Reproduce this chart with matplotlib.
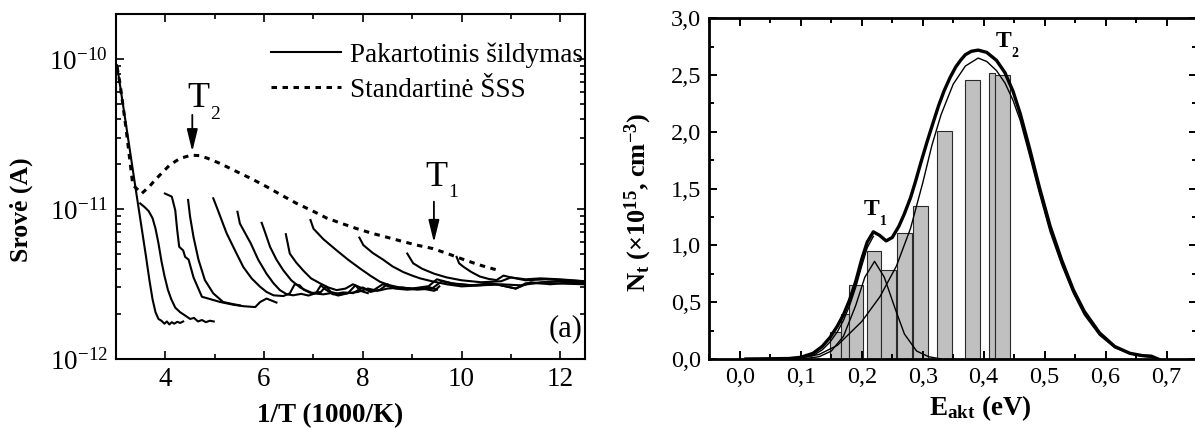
import matplotlib as mpl

mpl.use("Agg")
import matplotlib.pyplot as plt
from matplotlib.ticker import FuncFormatter, MultipleLocator, NullFormatter

plt.rcParams["font.family"] = ["Liberation Serif", "DejaVu Serif"]
plt.rcParams["mathtext.fontset"] = "custom"
plt.rcParams["mathtext.rm"] = "Liberation Serif"
plt.rcParams["mathtext.it"] = "Liberation Serif:italic"
plt.rcParams["mathtext.bf"] = "Liberation Serif:bold"

# ---- (a) TSC curves: x = 1000/T (1/K), current in A ----
std_t = [3.02, 3.08, 3.20, 3.34, 3.52, 3.68, 3.82, 4.09, 4.30, 4.53, 4.70, 4.84,
         5.10, 5.44, 5.75, 6.05, 6.35, 6.66, 6.96, 7.27, 7.58, 7.88, 8.18, 8.48,
         8.79, 9.09, 9.42, 9.75, 9.96, 10.35, 10.70]
std_i = [8.9e-11, 6.9e-11, 3.5e-11, 1.45e-11, 1.27e-11, 1.42e-11, 1.6e-11,
         1.97e-11, 2.18e-11, 2.29e-11, 2.27e-11, 2.19e-11, 2.02e-11, 1.78e-11,
         1.59e-11, 1.41e-11, 1.24e-11, 1.09e-11, 9.8e-12, 8.7e-12, 8.0e-12,
         7.4e-12, 6.9e-12, 6.5e-12, 6.1e-12, 5.75e-12, 5.45e-12, 5.0e-12,
         4.71e-12, 4.25e-12, 3.94e-12]

reheat1_t = [3.02, 3.20, 3.40, 3.60, 3.68, 3.74, 3.80, 3.86, 3.92, 3.98, 4.03,
             4.08, 4.13, 4.18, 4.24, 4.30, 4.36]
reheat1_i = [9.1e-11, 3.7e-11, 1.35e-11, 5.0e-12, 3.3e-12, 2.5e-12, 2.05e-12,
             1.85e-12, 1.80e-12, 1.72e-12, 1.78e-12, 1.70e-12, 1.76e-12,
             1.72e-12, 1.77e-12, 1.74e-12, 1.78e-12]

reheat2_t = [3.49, 3.58, 3.66, 3.74, 3.80, 3.86, 3.92, 3.98, 4.05, 4.12, 4.20,
             4.30, 4.40, 4.50, 4.58, 4.66, 4.74, 4.82, 4.90, 4.98]
reheat2_i = [1.09e-11, 1.03e-11, 9.7e-12, 8.7e-12, 7.4e-12, 5.9e-12, 4.5e-12,
             3.6e-12, 2.9e-12, 2.5e-12, 2.2e-12, 2.05e-12, 1.95e-12, 1.85e-12,
             1.88e-12, 1.78e-12, 1.82e-12, 1.76e-12, 1.80e-12, 1.78e-12]

reheat3_t = [3.99, 4.13, 4.20, 4.24, 4.28, 4.36, 4.40, 4.47, 4.57, 4.74, 4.87,
             5.11, 5.38, 5.58, 5.82, 5.92, 6.05, 6.25]
reheat3_i = [1.27e-11, 1.21e-11, 9.8e-12, 7.2e-12, 5.6e-12, 5.3e-12, 4.8e-12,
             4.6e-12, 3.5e-12, 2.6e-12, 2.53e-12, 2.4e-12, 2.3e-12, 2.25e-12,
             2.22e-12, 2.4e-12, 2.53e-12, 2.38e-12]

reheat4_t = [4.46, 4.50, 4.57, 4.67, 4.80, 4.97, 5.17, 5.38, 5.51]
reheat4_i = [1.15e-11, 8.9e-12, 6.5e-12, 4.6e-12, 3.36e-12, 2.74e-12, 2.4e-12,
             2.32e-12, 2.28e-12]

reheat5_t = [4.97, 5.04, 5.24, 5.41, 5.58, 5.75, 5.92, 6.05, 6.19, 6.39, 6.52,
             6.62, 6.72, 6.80, 6.95, 7.15, 7.25, 7.35, 7.55, 7.70, 7.85, 7.95,
             8.10]
reheat5_i = [1.18e-11, 1.03e-11, 6.9e-12, 5.3e-12, 4.1e-12, 3.44e-12, 3.03e-12,
             2.8e-12, 2.66e-12, 2.63e-12, 2.74e-12, 3.15e-12, 3.1e-12, 2.9e-12,
             2.75e-12, 2.8e-12, 3.05e-12, 2.8e-12, 2.7e-12, 2.75e-12, 3.1e-12,
             2.85e-12, 2.75e-12]

reheat6_t = [5.46, 5.51, 5.73, 5.88, 6.05, 6.19, 6.32, 6.46, 6.59, 6.75, 6.90,
             7.05, 7.15, 7.25, 7.40, 7.60, 7.80, 8.00, 8.15, 8.35, 8.50, 8.65,
             8.90, 9.20, 9.45, 9.55]
reheat6_i = [9.6e-12, 8.0e-12, 5.9e-12, 4.6e-12, 3.7e-12, 3.2e-12, 2.88e-12,
             2.7e-12, 2.66e-12, 2.72e-12, 2.65e-12, 2.75e-12, 3.1e-12, 2.9e-12,
             2.7e-12, 2.78e-12, 2.75e-12, 3.0e-12, 2.8e-12, 2.9e-12, 3.15e-12,
             2.95e-12, 2.9e-12, 2.95e-12, 2.85e-12, 3.05e-12]

reheat7_t = [5.95, 6.00, 6.12, 6.25, 6.39, 6.55, 6.73, 6.87, 7.00, 7.20, 7.35,
             7.50, 7.70, 7.90, 8.10, 8.30, 8.50, 8.80, 9.10, 9.40, 9.60, 9.90,
             10.30, 10.70, 11.10, 11.30, 11.80, 12.50]
reheat7_i = [8.1e-12, 7.3e-12, 5.6e-12, 4.6e-12, 3.9e-12, 3.35e-12, 3.0e-12,
             2.85e-12, 2.74e-12, 2.7e-12, 2.75e-12, 2.65e-12, 2.75e-12, 2.8e-12,
             2.95e-12, 2.85e-12, 2.95e-12, 3.0e-12, 2.9e-12, 2.95e-12, 3.3e-12,
             3.15e-12, 3.1e-12, 3.15e-12, 2.95e-12, 3.2e-12, 3.2e-12, 3.15e-12]

reheat8_t = [6.44, 6.52, 6.65, 6.79, 6.95, 7.13, 7.30, 7.47, 7.65, 7.80, 7.95,
             8.20, 8.40, 8.60, 9.00, 9.30, 9.50]
reheat8_i = [6.8e-12, 5.05e-12, 4.4e-12, 3.9e-12, 3.45e-12, 3.2e-12, 3.0e-12,
             2.88e-12, 2.95e-12, 3.15e-12, 3.0e-12, 2.85e-12, 3.15e-12, 3.0e-12,
             2.95e-12, 3.05e-12, 2.9e-12]

reheat9_t = [6.94, 7.00, 7.20, 7.47, 7.70, 7.95, 8.15, 8.35, 8.55, 8.75, 9.00,
             9.30, 9.50, 9.80, 10.20, 10.60, 10.90, 11.10, 11.40, 11.80, 12.20,
             12.50]
reheat9_i = [8.45e-12, 7.4e-12, 6.3e-12, 5.3e-12, 4.6e-12, 4.0e-12, 3.6e-12,
             3.27e-12, 3.1e-12, 3.0e-12, 2.95e-12, 3.0e-12, 3.4e-12, 3.2e-12,
             3.1e-12, 3.2e-12, 3.05e-12, 2.95e-12, 3.25e-12, 3.15e-12, 3.25e-12,
             3.2e-12]

reheat10_t = [7.93, 8.01, 8.20, 8.41, 8.60, 8.82, 9.00, 9.16, 9.40, 9.70, 10.00,
              10.40, 10.80, 11.20, 11.60, 12.00, 12.50]
reheat10_i = [6.45e-12, 5.75e-12, 5.1e-12, 4.6e-12, 4.15e-12, 3.8e-12, 3.6e-12,
              3.45e-12, 3.3e-12, 3.15e-12, 3.05e-12, 3.1e-12, 3.15e-12, 3.1e-12,
              3.25e-12, 3.3e-12, 3.2e-12]

reheat11_t = [8.90, 9.02, 9.20, 9.45, 9.70, 10.00, 10.40, 10.80, 11.00, 11.30,
              11.70, 12.10, 12.50]
reheat11_i = [5.05e-12, 4.35e-12, 4.0e-12, 3.7e-12, 3.5e-12, 3.35e-12, 3.25e-12,
              3.3e-12, 3.5e-12, 3.35e-12, 3.4e-12, 3.35e-12, 3.3e-12]

reheat12_t = [9.90, 9.95, 10.04, 10.20, 10.37, 10.55, 10.71, 10.85, 11.00, 11.30,
              11.60, 12.00, 12.50]
reheat12_i = [4.8e-12, 4.35e-12, 4.12e-12, 3.8e-12, 3.55e-12, 3.42e-12,
              3.36e-12, 3.6e-12, 3.5e-12, 3.4e-12, 3.45e-12, 3.4e-12, 3.3e-12]

# ---- (b) trap density vs activation energy ----
bin_lo = [0.1475, 0.1667, 0.179, 0.2087, 0.2322, 0.2585, 0.2841, 0.3235, 0.370,
          0.4087, 0.418]
bin_hi = [0.1667, 0.179, 0.202, 0.2322, 0.2568, 0.2825, 0.3087, 0.348, 0.394,
          0.418, 0.4426]
bin_nt = [0.24, 0.40, 0.65, 0.95, 0.78, 1.11, 1.35, 2.01, 2.46, 2.52, 2.50]

meas_e = [0.01, 0.08, 0.10, 0.12, 0.135, 0.148, 0.16, 0.17, 0.18, 0.19, 0.20,
          0.209, 0.219, 0.229, 0.24, 0.25, 0.261, 0.27, 0.28, 0.288, 0.297,
          0.307, 0.317, 0.326, 0.335, 0.345, 0.354, 0.362, 0.370, 0.38, 0.391,
          0.405, 0.421, 0.435, 0.448, 0.46, 0.475, 0.491, 0.509, 0.528, 0.547,
          0.565, 0.590, 0.615, 0.640, 0.660, 0.675, 0.686]
meas_nt = [0.0, 0.004, 0.015, 0.05, 0.11, 0.19, 0.29, 0.39, 0.52, 0.68, 0.88,
           1.03, 1.12, 1.09, 1.04, 1.07, 1.17, 1.28, 1.42, 1.56, 1.73, 1.91,
           2.08, 2.23, 2.36, 2.48, 2.57, 2.63, 2.68, 2.71, 2.72, 2.70, 2.63,
           2.52, 2.36, 2.16, 1.86, 1.52, 1.17, 0.87, 0.61, 0.42, 0.23, 0.11,
           0.05, 0.03, 0.025, 0.0]

fit_e = [0.10, 0.12, 0.135, 0.148, 0.16, 0.17, 0.18, 0.19, 0.20, 0.209, 0.219]
fit_nt = [0.01, 0.03, 0.08, 0.15, 0.24, 0.34, 0.47, 0.63, 0.82, 0.98, 1.08]

t1_e = [0.10, 0.13, 0.15, 0.17, 0.19, 0.205, 0.221, 0.237, 0.255, 0.27, 0.29,
        0.31, 0.33]
t1_nt = [0.0, 0.02, 0.07, 0.2, 0.47, 0.72, 0.86, 0.72, 0.44, 0.22, 0.07, 0.02,
         0.0]

t2_e = [0.10, 0.13, 0.16, 0.20, 0.23, 0.257, 0.28, 0.30, 0.315, 0.33, 0.35,
        0.37, 0.391, 0.405, 0.421, 0.435, 0.448, 0.46, 0.475, 0.491, 0.509,
        0.528, 0.547, 0.565, 0.59, 0.615, 0.64, 0.66, 0.675, 0.686]
t2_nt = [0.01, 0.04, 0.12, 0.33, 0.55, 0.82, 1.15, 1.55, 1.88, 2.15, 2.42,
         2.58, 2.65, 2.62, 2.54, 2.43, 2.28, 2.10, 1.80, 1.47, 1.12, 0.83,
         0.58, 0.39, 0.21, 0.10, 0.045, 0.025, 0.015, 0.0]

reheat_runs = [
    (reheat1_t, reheat1_i), (reheat2_t, reheat2_i), (reheat3_t, reheat3_i),
    (reheat4_t, reheat4_i), (reheat5_t, reheat5_i), (reheat6_t, reheat6_i),
    (reheat7_t, reheat7_i), (reheat8_t, reheat8_i), (reheat9_t, reheat9_i),
    (reheat10_t, reheat10_i), (reheat11_t, reheat11_i),
    (reheat12_t, reheat12_i),
]


def comma_fmt(v, pos):
    return f"{v:.1f}".replace(".", ",")


fig = plt.figure(figsize=(11.95, 4.28), dpi=100)
ax1 = fig.add_axes([0.0971, 0.1612, 0.3924, 0.8061])
ax2 = fig.add_axes([0.5936, 0.1612, 0.4081, 0.7960])

# ---------------- panel (a) ----------------
for k, (t, i) in enumerate(reheat_runs):
    ax1.plot(t, i, color="black", lw=1.5,
             label="Pakartotinis šildymas" if k == 0 else None)
ax1.plot(std_t, std_i, color="black", lw=2.2, linestyle=(0, (1.8, 1.8)),
         label="Standartinė ŠSS")

ax1.set_yscale("log")
ax1.set_xlim(3.0, 12.5)
ax1.set_ylim(1e-12, 2e-10)
ax1.set_yticks([1e-12, 1e-11, 1e-10])
ax1.xaxis.set_major_locator(MultipleLocator(2))
ax1.xaxis.set_minor_locator(MultipleLocator(1))
ax1.yaxis.set_minor_formatter(NullFormatter())
ax1.tick_params(which="both", direction="in", top=True, right=True, width=1.2,
                labelsize=19.5, pad=6)
ax1.tick_params(which="major", length=6)
ax1.tick_params(which="minor", length=3.5)
for s in ax1.spines.values():
    s.set_linewidth(1.5)

leg = ax1.legend(loc="upper right", bbox_to_anchor=(1.02, 0.95),
                 frameon=False, fontsize=19.5, handlelength=2.6,
                 handletextpad=0.34, labelspacing=0.38, borderaxespad=0)

arrow = dict(arrowstyle="-|>,head_length=0.9,head_width=0.22", color="black",
             lw=1.3, mutation_scale=15, shrinkA=0, shrinkB=0)
ax1.annotate("", xy=(4.545, 2.42e-11), xytext=(4.545, 4.25e-11),
             arrowprops=arrow)
ax1.annotate("", xy=(9.44, 6.0e-12), xytext=(9.44, 1.12e-11), arrowprops=arrow)
ax1.text(4.667, 4.82e-11, "T", fontsize=26, ha="center", va="baseline")
ax1.text(4.90, 3.97e-11, "2", fontsize=14, ha="left", va="baseline")
ax1.text(9.50, 1.42e-11, "T", fontsize=26, ha="center", va="baseline")
ax1.text(9.73, 1.20e-11, "1", fontsize=14, ha="left", va="baseline")
ax1.text(0.995, 0.067, "(a)", transform=ax1.transAxes, fontsize=22,
         ha="right", va="baseline")

fig.text(21.5 / 1195, 0.509, "Srovė (A)", rotation=90, fontsize=18.5,
         fontweight="bold", ha="center", va="center")
fig.text(330 / 1195, 0.030, "1/T (1000/K)", fontsize=19.5, fontweight="bold",
         ha="center", va="center")

# ---------------- panel (b) ----------------
widths = [h - l for l, h in zip(bin_lo, bin_hi)]
ax2.bar(bin_lo, bin_nt, width=widths, align="edge", color="#c0c0c0",
        edgecolor="#2a2a2a", linewidth=0.8, zorder=1)
ax2.plot(t1_e, t1_nt, color="black", lw=1.0, zorder=3)
ax2.plot(t2_e, t2_nt, color="black", lw=1.0, zorder=3)
ax2.plot(fit_e, fit_nt, color="black", lw=1.0, zorder=3)
ax2.plot(meas_e, meas_nt, color="black", lw=2.4, zorder=4)

ax2.set_xlim(-0.05, 0.75)
ax2.set_ylim(0, 3.0)
ax2.xaxis.set_major_locator(MultipleLocator(0.1))
ax2.xaxis.set_minor_locator(MultipleLocator(0.05))
ax2.yaxis.set_major_locator(MultipleLocator(0.5))
ax2.yaxis.set_minor_locator(MultipleLocator(0.25))
ax2.xaxis.set_major_formatter(FuncFormatter(comma_fmt))
ax2.yaxis.set_major_formatter(FuncFormatter(comma_fmt))
ax2.tick_params(which="both", direction="in", top=True, right=True, width=1.4,
                labelsize=17.5, pad=6)
ax2.tick_params(which="major", length=6)
ax2.tick_params(which="minor", length=3.5)
for s in ax2.spines.values():
    s.set_linewidth(2.0)

ax2.text(0.2153, 1.27, "T", fontsize=17, fontweight="bold", ha="center",
         va="baseline")
ax2.text(0.2295, 1.18, "1", fontsize=10, fontweight="bold", ha="left",
         va="baseline")
ax2.text(0.433, 2.75, "T", fontsize=17, fontweight="bold", ha="center",
         va="baseline")
ax2.text(0.445, 2.66, "2", fontsize=10, fontweight="bold", ha="left",
         va="baseline")

fig.text(638 / 1195, 0.526,
         r"$\mathbf{N_t}$ ($\mathbf{\times 10^{15}}$, $\mathbf{cm^{-3}}$)",
         rotation=90, fontsize=19, fontweight="bold", ha="center",
         va="center")
fig.text(980 / 1195, 0.047, r"$\mathbf{E_{akt}}$ (eV)", fontsize=19.5,
         fontweight="bold", ha="center", va="center")

fig.savefig("out.png", dpi=100)
